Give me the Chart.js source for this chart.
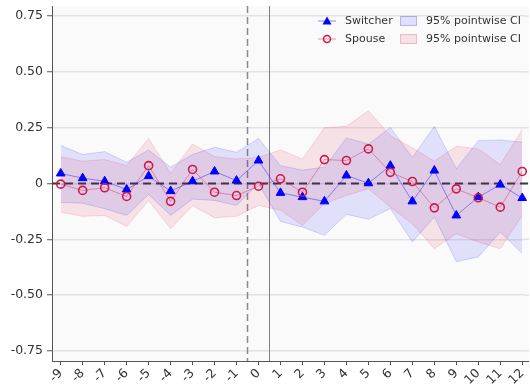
<!DOCTYPE html>
<html>
<head>
<meta charset="utf-8">
<script src="https://cdn.jsdelivr.net/npm/chart.js@4.4.0/dist/chart.umd.min.js"></script>
<style>
html, body { margin: 0; padding: 0; background: #fff; }
</style>
</head>
<body>
<canvas id="chart" width="530" height="385"></canvas>
<script>
// --- data ---
const lags = [-9, -8, -7, -6, -5, -4, -3, -2, -1, 0, 1, 2, 3, 4, 5, 6, 7, 8, 9, 10, 11, 12];
const switcher = [0.045, 0.024, 0.01, -0.027, 0.033, -0.034, 0.01, 0.054, 0.013, 0.103, -0.042, -0.061,
                  -0.08, 0.036, 0.001, 0.08, -0.08, 0.058, -0.143, -0.061, -0.005, -0.065];
const switcherLo = [-0.085, -0.088, -0.113, -0.143, -0.049, -0.143, -0.07, -0.076, -0.098, 0.0, -0.17, -0.195,
                    -0.232, -0.138, -0.16, -0.112, -0.262, -0.15, -0.35, -0.329, -0.217, -0.314];
const switcherHi = [0.17, 0.13, 0.143, 0.095, 0.15, 0.073, 0.13, 0.162, 0.14, 0.202, 0.08, 0.06,
                    0.073, 0.204, 0.177, 0.251, 0.117, 0.256, 0.066, 0.192, 0.195, 0.185];
const spouse = [-0.003, -0.031, -0.019, -0.058, 0.08, -0.08, 0.063, -0.039, -0.054, -0.012, 0.021, -0.039,
                0.107, 0.103, 0.155, 0.05, 0.009, -0.109, -0.024, -0.064, -0.106, 0.054];
const spouseLo = [-0.128, -0.147, -0.143, -0.192, -0.076, -0.202, -0.1, -0.153, -0.147, -0.098, -0.12, -0.187,
                  -0.09, -0.054, -0.023, -0.106, -0.18, -0.292, -0.225, -0.262, -0.292, -0.143];
const spouseHi = [0.12, 0.10, 0.107, 0.08, 0.202, 0.045, 0.177, 0.12, 0.11, 0.117, 0.15, 0.11,
                  0.25, 0.256, 0.326, 0.214, 0.16, 0.1, 0.167, 0.155, 0.085, 0.241];
const yTicks = [-0.75, -0.5, -0.25, 0, 0.25, 0.5, 0.75];
const seriesNames = ['Switcher', 'Spouse'];
const ciName = '95% pointwise CI';

const BLUE = '#0000ff';
const RED = '#d1164a';
const FONT = '"DejaVu Sans", sans-serif';
const PLOT_RIGHT = 529;

function pts(arr) {
    return lags.map((x, i) => ({ x: x, y: arr[i] }));
}

// fond gris clair + lignes de référence
const decorPlugin = {
    id: 'decor',
    beforeDraw(chart) {
        const { ctx, chartArea: a } = chart;
        ctx.save();
        ctx.fillStyle = '#fafafa';
        ctx.fillRect(a.left, a.top, PLOT_RIGHT - a.left, a.bottom - a.top);
        ctx.restore();
    },
    beforeDatasetsDraw(chart) {
        const { ctx, chartArea: a, scales } = chart;
        const x = scales.x, y = scales.y;
        ctx.save();
        // grid continuation to the right edge
        ctx.strokeStyle = '#e2e2e2';
        ctx.lineWidth = 1.5;
        ctx.setLineDash([6, 4]);
        yTicks.forEach(v => {
            const gy = y.getPixelForValue(v);
            ctx.beginPath(); ctx.moveTo(a.right, gy); ctx.lineTo(PLOT_RIGHT, gy); ctx.stroke();
        });
        // vertical dashed at -0.5
        ctx.strokeStyle = '#8a8a8a';
        ctx.lineWidth = 1.5;
        ctx.setLineDash([7, 4]);
        let px = x.getPixelForValue(-0.5);
        ctx.beginPath(); ctx.moveTo(px, a.top); ctx.lineTo(px, a.bottom); ctx.stroke();
        // vertical solid at 0.5
        ctx.setLineDash([]);
        ctx.strokeStyle = '#808080';
        ctx.lineWidth = 1;
        px = x.getPixelForValue(0.5);
        ctx.beginPath(); ctx.moveTo(px, a.top); ctx.lineTo(px, a.bottom); ctx.stroke();
        // zero line
        ctx.strokeStyle = '#3a3a3a';
        ctx.lineWidth = 2;
        ctx.setLineDash([8, 5]);
        const py = y.getPixelForValue(0);
        ctx.beginPath(); ctx.moveTo(a.left, py); ctx.lineTo(PLOT_RIGHT, py); ctx.stroke();
        ctx.restore();
    },
    afterDraw(chart) {
        const { ctx, chartArea: a } = chart;
        ctx.save();
        // bottom axis line continuation
        ctx.strokeStyle = '#555';
        ctx.lineWidth = 1;
        ctx.beginPath(); ctx.moveTo(a.right, a.bottom + 0.5); ctx.lineTo(PLOT_RIGHT, a.bottom + 0.5); ctx.stroke();

        ctx.font = '11px ' + FONT;
        ctx.fillStyle = '#333';
        ctx.textBaseline = 'middle';
        const rows = [21, 39];
        const fills = ['rgba(0,0,255,0.1)', 'rgba(220,20,60,0.1)'];
        const borders = ['rgba(0,0,255,0.2)', 'rgba(220,20,60,0.2)'];
        rows.forEach((ry, i) => {
            // line + marker
            ctx.strokeStyle = i === 0 ? 'rgba(0,0,255,0.45)' : 'rgba(209,22,74,0.45)';
            ctx.lineWidth = 1;
            ctx.beginPath(); ctx.moveTo(318, ry); ctx.lineTo(336, ry); ctx.stroke();
            if (i === 0) {
                ctx.fillStyle = BLUE;
                ctx.beginPath();
                ctx.moveTo(327, ry - 4.5); ctx.lineTo(331.5, ry + 3.5); ctx.lineTo(322.5, ry + 3.5);
                ctx.closePath(); ctx.fill();
            } else {
                ctx.strokeStyle = RED;
                ctx.lineWidth = 1.5;
                ctx.beginPath(); ctx.arc(327, ry, 3.5, 0, Math.PI * 2); ctx.stroke();
            }
            ctx.fillStyle = '#333';
            ctx.fillText(seriesNames[i], 345, ry);
            // CI patch
            ctx.fillStyle = fills[i];
            ctx.fillRect(400, ry - 5, 17, 10);
            ctx.strokeStyle = borders[i];
            ctx.lineWidth = 1;
            ctx.strokeRect(400.5, ry - 4.5, 16, 9);
            ctx.fillStyle = '#333';
            ctx.fillText(ciName, 426, ry);
        });
        ctx.restore();
    }
};

const bandLine = (c) => ({ borderColor: c, borderWidth: 1, pointRadius: 0, tension: 0 });

new Chart(document.getElementById('chart'), {
    type: 'line',
    data: {
        datasets: [
            { label: 'swLo', data: pts(switcherLo), ...bandLine('rgba(0,0,255,0.15)'), fill: false, order: 5 },
            { label: 'swHi', data: pts(switcherHi), ...bandLine('rgba(0,0,255,0.15)'),
              fill: '-1', backgroundColor: 'rgba(0,0,255,0.1)', order: 5 },
            { label: 'spLo', data: pts(spouseLo), ...bandLine('rgba(220,20,60,0.15)'), fill: false, order: 4 },
            { label: 'spHi', data: pts(spouseHi), ...bandLine('rgba(220,20,60,0.15)'),
              fill: '-1', backgroundColor: 'rgba(220,20,60,0.1)', order: 4 },
            { label: seriesNames[0], data: pts(switcher), borderColor: 'rgba(0,0,255,0.4)', borderWidth: 1,
              pointStyle: 'triangle', pointRadius: 5, pointBackgroundColor: BLUE, pointBorderColor: BLUE,
              pointBorderWidth: 1, fill: false, order: 1, clip: 8 },
            { label: seriesNames[1], data: pts(spouse), borderColor: 'rgba(209,22,74,0.4)', borderWidth: 1,
              pointStyle: 'circle', pointRadius: 4, pointBackgroundColor: 'rgba(0,0,0,0)', pointBorderColor: RED,
              pointBorderWidth: 1.6, fill: false, order: 0, clip: 8 }
        ]
    },
    options: {
        responsive: false,
        animation: false,
        layout: { padding: { top: 5, right: 1, left: 0, bottom: 0 } },
        plugins: { legend: { display: false }, tooltip: { enabled: false } },
        scales: {
            x: {
                type: 'linear',
                min: -9.396,
                max: 12.08,
                afterBuildTicks: (ax) => { ax.ticks = lags.map(v => ({ value: v })); },
                afterFit: (ax) => { ax.height = 24; ax.paddingLeft = 0; ax.paddingRight = 0; },
                ticks: {
                    minRotation: 45, maxRotation: 45, autoSkip: false, padding: 1,
                    color: '#333', font: { family: FONT, size: 12.5 },
                    callback: (v) => String(v)
                },
                grid: { drawOnChartArea: false, drawTicks: true, tickLength: 4, tickColor: '#555' },
                border: { color: '#555', width: 1 }
            },
            y: {
                min: -0.795,
                max: 0.795,
                afterBuildTicks: (ax) => { ax.ticks = yTicks.map(v => ({ value: v })); },
                afterFit: (ax) => { ax.width = 52; ax.paddingTop = 0; ax.paddingBottom = 0; },
                ticks: {
                    padding: 4, color: '#333', font: { family: FONT, size: 12.5 },
                    callback: (v) => v === 0 ? '0' : v.toFixed(2)
                },
                grid: { color: '#e2e2e2', lineWidth: 1.5, borderDash: [6, 4], drawTicks: true, tickLength: 5,
                        tickColor: '#555', tickBorderDash: [], tickWidth: 1 },
                border: { color: '#555', width: 1 }
            }
        }
    },
    plugins: [decorPlugin]
});
</script>
</body>
</html>
